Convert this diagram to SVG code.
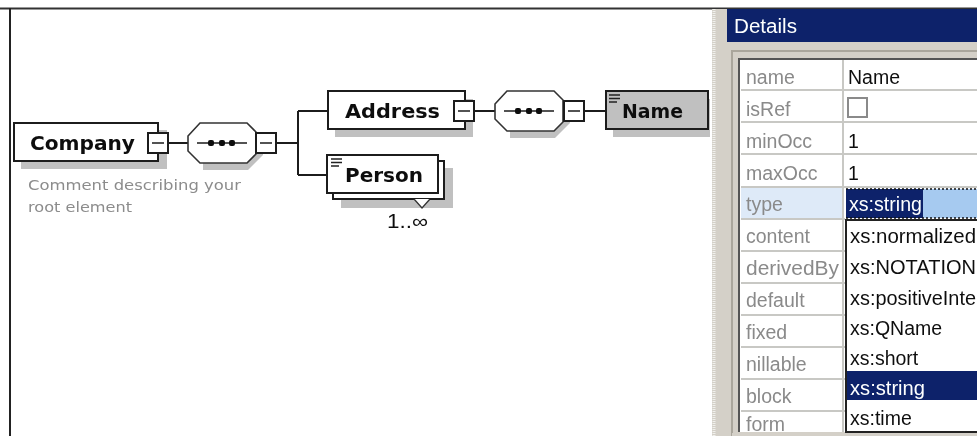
<svg xmlns="http://www.w3.org/2000/svg" width="977" height="436" viewBox="0 0 977 436">
<style>
.box{fill:#fff;stroke:#1a1a1a;stroke-width:2}
.sh{fill:#c0c0c0}
.ln{fill:none;stroke:#1a1a1a;stroke-width:2}
.seq{fill:#fff;stroke:#333;stroke-width:1.6}
.thin{stroke:#1a1a1a;stroke-width:1.5}
.el{font:bold 19px "DejaVu Sans",sans-serif;fill:#111}
.cm{font:14px "DejaVu Sans",sans-serif;fill:#8c8c8c}
.t{font:19.5px "Liberation Sans",sans-serif;fill:#111}
.w{font:19.5px "Liberation Sans",sans-serif;fill:#fff}
.lb{font:19.5px "Liberation Sans",sans-serif;fill:#8a8a8a}
.grid{stroke:#c8c8c4;stroke-width:2}
</style>
<defs>
<filter id="soft" x="0" y="0" width="100%" height="100%"><feGaussianBlur stdDeviation="0.4"/></filter>
<g id="seq">
<path class="sh" d="M15 7H60L75 22V32L60 47H15Z"/>
<path class="seq" d="M0 13L12 0H59L68 9V31L59 40H12L0 28Z"/>
<path class="thin" d="M9 20H59"/>
<rect x="20" y="17" width="6" height="6" rx="2" fill="#111"/><rect x="31" y="17" width="6" height="6" rx="2" fill="#111"/><rect x="41" y="17" width="6" height="6" rx="2" fill="#111"/>
</g>
<g id="tg"><rect class="box" x="0" y="0" width="20" height="20"/><path class="thin" d="M4 10H16"/></g>
<path id="doc" d="M0 1H11M0 4.500H11M0 8H8" stroke="#222" stroke-width="1.600" fill="none"/>
</defs>
<g filter="url(#soft)">
<rect width="977" height="436" fill="#fff"/>
<path d="M0 8.500H977" stroke="#333" stroke-width="2"/>
<path d="M10 8V436" stroke="#222" stroke-width="2"/>

<g id="connectors">
<path class="ln" d="M168 143H188M277 143H298M298 111V175M298 111H328M298 175H328M474 111H495M584 111H606"/>
</g>

<g id="company">
<rect class="sh" x="21" y="130" width="146" height="39"/>
<rect class="box" x="14" y="123" width="144" height="38"/>
<text class="el" x="30" y="150" textLength="105" lengthAdjust="spacingAndGlyphs">Company</text>
<use href="#tg" x="148" y="133"/>
<text class="cm" x="28" y="190" textLength="213" lengthAdjust="spacingAndGlyphs">Comment describing your</text>
<text class="cm" x="28" y="212" textLength="104" lengthAdjust="spacingAndGlyphs">root element</text>
</g>
<g id="seq1"><use href="#seq" x="188" y="123"/><use href="#tg" x="256" y="133"/></g>
<g id="address">
<rect class="sh" x="335" y="99" width="138" height="38"/>
<rect class="box" x="328" y="91" width="137" height="38"/>
<text class="el" x="345" y="118" textLength="95" lengthAdjust="spacingAndGlyphs">Address</text>
<use href="#tg" x="454" y="101"/>
</g>
<g id="seq2"><use href="#seq" x="495" y="91"/><use href="#tg" x="564" y="101"/></g>
<g id="name">
<rect class="sh" x="613" y="99" width="97" height="38"/>
<rect x="606" y="91" width="102" height="38" fill="#c0c0c0" stroke="#1a1a1a" stroke-width="2"/>
<use href="#doc" x="609" y="94"/>
<text class="el" x="622" y="118" textLength="61" lengthAdjust="spacingAndGlyphs">Name</text>
</g>
<g id="person">
<rect class="sh" x="341" y="168" width="112" height="40"/>
<rect class="box" x="333" y="161" width="111" height="38"/>
<rect class="box" x="327" y="155" width="111" height="38"/>
<use href="#doc" x="331" y="158"/>
<text class="el" x="345" y="182" textLength="78" lengthAdjust="spacingAndGlyphs">Person</text>
<path d="M414 199L422 208L430 199" fill="#fff" stroke="#333" stroke-width="1.300"/>
<text class="t" x="387" y="228" textLength="41" lengthAdjust="spacingAndGlyphs">1..∞</text>
</g>

<g id="details">
<rect x="712" y="9" width="265" height="427" fill="#d4d0c8"/>
<path d="M714 9V436" stroke="#f0f0ec" stroke-width="3" stroke-dasharray="1 1"/>
<rect x="727" y="9" width="250" height="33" fill="#0a246a"/>
<text class="w" x="734" y="33" textLength="63" lengthAdjust="spacingAndGlyphs">Details</text>
<path d="M732 436V51H977" fill="none" stroke="#aaa69c" stroke-width="2"/>
<rect x="740" y="60" width="237" height="372" fill="#fff"/>
<path d="M739 432V59H977" fill="none" stroke="#555" stroke-width="2"/>
<rect x="741" y="188" width="102" height="30" fill="#deeaf8"/>
<path class="grid" d="M843 60V432M741 90H977M741 122H977M741 154H977M741 187H977M741 219H845M741 251H845M741 283H845M741 315H845M741 347H845M741 379H845M741 411H845"/>
<text class="lb" x="746" y="84">name</text>
<text class="lb" x="746" y="116">isRef</text>
<text class="lb" x="746" y="148">minOcc</text>
<text class="lb" x="746" y="180">maxOcc</text>
<text class="lb" x="746" y="211">type</text>
<text class="lb" x="746" y="243">content</text>
<text class="lb" x="746" y="275" textLength="93" lengthAdjust="spacingAndGlyphs">derivedBy</text>
<text class="lb" x="746" y="307">default</text>
<text class="lb" x="746" y="339">fixed</text>
<text class="lb" x="746" y="371">nillable</text>
<text class="lb" x="746" y="403">block</text>
<text class="lb" x="746" y="431">form</text>
<text class="t" x="848" y="84">Name</text>
<rect x="848" y="98" width="19" height="19" fill="#fff" stroke="#8a8a8a" stroke-width="2"/>
<text class="t" x="848" y="148">1</text>
<text class="t" x="848" y="180">1</text>
<rect x="846" y="189" width="131" height="29" fill="#a6caf0"/>
<rect x="846" y="189" width="77" height="29" fill="#0a246a"/>
<path d="M846 189H977M846 218H977" stroke="#111" stroke-width="1.500" stroke-dasharray="2 2"/>
<text class="w" x="849" y="211" textLength="73" lengthAdjust="spacingAndGlyphs">xs:string</text>
<rect x="846" y="220" width="140" height="212" fill="#fff" stroke="#222" stroke-width="2"/>
<rect x="847" y="371" width="130" height="29" fill="#0a246a"/>
<text class="t" x="850" y="243" textLength="126" lengthAdjust="spacingAndGlyphs">xs:normalized</text>
<text class="t" x="850" y="274" textLength="126" lengthAdjust="spacingAndGlyphs">xs:NOTATION</text>
<text class="t" x="850" y="305" textLength="126" lengthAdjust="spacingAndGlyphs">xs:positiveInte</text>
<text class="t" x="850" y="335">xs:QName</text>
<text class="t" x="850" y="365">xs:short</text>
<text class="w" x="850" y="395" textLength="75" lengthAdjust="spacingAndGlyphs">xs:string</text>
<text class="t" x="850" y="425">xs:time</text>
<rect x="732" y="433" width="245" height="3" fill="#d4d0c8"/>
</g>
</g>
</svg>
